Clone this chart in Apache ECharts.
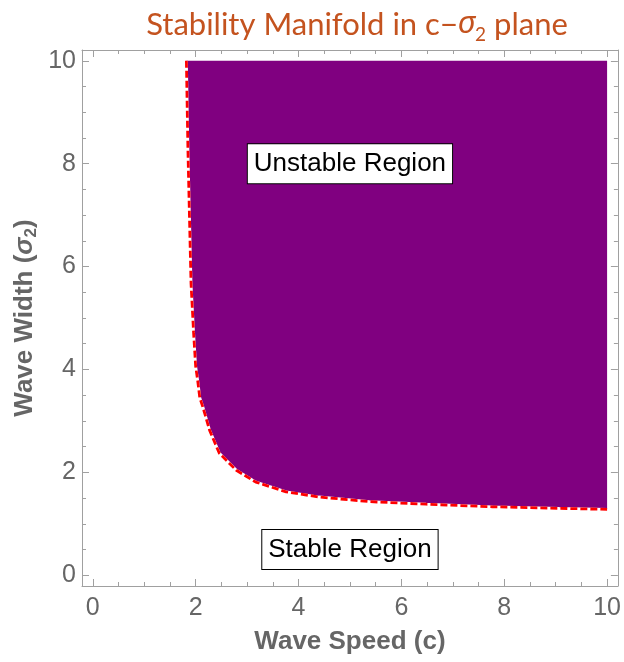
<!DOCTYPE html>
<html>
<head>
<meta charset="utf-8">
<script src="https://cdn.jsdelivr.net/npm/echarts@6/dist/echarts.min.js"></script>
<style>
html,body{margin:0;padding:0;background:#fff;}
#chart{width:624px;height:662px;}
</style>
</head>
<body>
<div id="chart"></div>
<script>
// Boundary curve of the unstable region
const cValues     = [1.82, 1.85, 1.88, 1.91, 1.96, 2.00, 2.04, 2.08, 2.14, 2.27, 2.46, 2.79, 3.17, 3.76, 4.40, 5.38, 6.48, 7.77, 9.07, 10.0];
const sigmaValues = [10.0, 8.26, 6.96, 5.67, 4.71, 4.06, 3.78, 3.45, 3.27, 2.82, 2.37, 2.04, 1.81, 1.62, 1.52, 1.43, 1.38, 1.33, 1.30, 1.28];

const majorTicks = [0, 2, 4, 6, 8, 10];
const minorTicks = [0.5, 1, 1.5, 2.5, 3, 3.5, 4.5, 5, 5.5, 6.5, 7, 7.5, 8.5, 9, 9.5];

const regionLabels = ['Unstable Region', 'Stable Region'];
const regionLabelC = [5, 5];
const regionLabelSigma = [8, 0.5];

const AX_MIN = -0.21, AX_MAX = 10.21;
const frameColor = '#a0a0a0';
const tickFont = { fontSize: 25, color: '#666', fontFamily: '"Liberation Sans", Arial, sans-serif' };

function makeAxis(position, ticks, len, showLine, labels, extra) {
  return Object.assign({
    type: 'value', position: position, min: AX_MIN, max: AX_MAX,
    axisLine: { show: showLine, onZero: false, lineStyle: { color: frameColor, width: 1 } },
    axisTick: { show: true, inside: true, length: len, customValues: ticks, lineStyle: { color: frameColor, width: 1 } },
    axisLabel: labels ? Object.assign({ show: true, customValues: ticks, margin: position === 'bottom' ? 10 : 6 }, tickFont) : { show: false },
    splitLine: { show: false }
  }, extra || {});
}

const curveData = cValues.map((c, i) => [c, sigmaValues[i]]);
const labelData = regionLabels.map((t, i) => ({ name: t, value: [regionLabelC[i], regionLabelSigma[i]] }));

const titleColor = '#c4531f';
const chart = echarts.init(document.getElementById('chart'), null, { renderer: 'canvas' });
chart.setOption({
  animation: false,
  backgroundColor: '#fff',
  title: {
    text: '{a|Stability Manifold in c\u2212}{s|\u03c3}{sub|2}{a| plane}',
    left: 352, top: 0, textAlign: 'center',
    textStyle: {
      fontWeight: 'normal',
      rich: {
        a: { fontSize: 31, fontWeight: 'normal', color: titleColor, fontFamily: 'Lato, "Noto Sans", sans-serif', lineHeight: 39 },
        s: { fontSize: 31, fontWeight: 'normal', color: titleColor, fontStyle: 'italic', fontFamily: '"Noto Sans", Lato, sans-serif', lineHeight: 39 },
        sub: { fontSize: 19, fontWeight: 'normal', color: titleColor, fontFamily: 'Lato, "Noto Sans", sans-serif', lineHeight: 19, verticalAlign: 'bottom' }
      }
    }
  },
  grid: { left: 82, right: 5, top: 50, bottom: 76 },
  xAxis: [
    makeAxis('bottom', majorTicks, 7, true, true, {
      name: 'Wave Speed (c)', nameLocation: 'middle', nameGap: 43, nameMoveOverlap: false,
      nameTextStyle: { fontSize: 26, fontWeight: 'bold', color: '#666', fontFamily: '"Liberation Sans", Arial, sans-serif' }
    }),
    makeAxis('bottom', minorTicks, 4, false, false),
    makeAxis('top', majorTicks, 7, true, false),
    makeAxis('top', minorTicks, 4, false, false)
  ],
  yAxis: [
    makeAxis('left', majorTicks, 7, true, true, {
      name: '{b|Wave Width (}{s|\u03c3}{sub|2}{b|)}', nameLocation: 'middle', nameGap: 42, nameRotate: 90, nameMoveOverlap: false,
      nameTextStyle: {
        rich: {
          b: { fontSize: 26, fontWeight: 'bold', color: '#666', fontFamily: '"Liberation Sans", Arial, sans-serif', lineHeight: 30 },
          s: { fontSize: 26, fontWeight: 'bold', fontStyle: 'italic', color: '#666', fontFamily: '"Liberation Sans", Arial, sans-serif', lineHeight: 30 },
          sub: { fontSize: 17, fontWeight: 'bold', color: '#666', fontFamily: '"Liberation Sans", Arial, sans-serif', lineHeight: 17, verticalAlign: 'bottom' }
        }
      }
    }),
    makeAxis('left', minorTicks, 4, false, false),
    makeAxis('right', majorTicks, 7, true, false),
    makeAxis('right', minorTicks, 4, false, false)
  ],
  series: [
    {
      type: 'custom',
      xAxisIndex: 0, yAxisIndex: 0,
      clip: true,
      silent: true,
      data: [[cValues[0], sigmaValues[0]]],
      renderItem: function (params, api) {
        const pts = curveData.map(p => api.coord(p));
        pts.push(api.coord([cValues[cValues.length - 1], sigmaValues[0]]));
        return { type: 'polygon', shape: { points: pts }, style: { fill: '#800080', stroke: null } };
      },
      z: 1
    },
    {
      type: 'line',
      xAxisIndex: 0, yAxisIndex: 0,
      data: curveData,
      showSymbol: false,
      silent: true,
      lineStyle: { color: '#ffffff', width: 2.8, type: 'solid' },
      z: 2
    },
    {
      type: 'line',
      xAxisIndex: 0, yAxisIndex: 0,
      data: curveData,
      showSymbol: false,
      silent: true,
      lineStyle: { color: '#ff0000', width: 2.8, type: [7, 3] },
      z: 3
    },
    {
      type: 'scatter',
      xAxisIndex: 0, yAxisIndex: 0,
      data: labelData,
      symbolSize: 0,
      silent: true,
      itemStyle: { opacity: 1 },
      emphasis: { disabled: true },
      label: {
        show: true, position: 'inside', formatter: '{b}', opacity: 1,
        fontSize: 26, color: '#000', fontFamily: '"Liberation Sans", Arial, sans-serif',
        backgroundColor: '#ffffff', borderColor: '#000', borderWidth: 1, padding: [7, 6, 6, 6]
      },
      z: 5
    }
  ]
});
</script>
</body>
</html>
